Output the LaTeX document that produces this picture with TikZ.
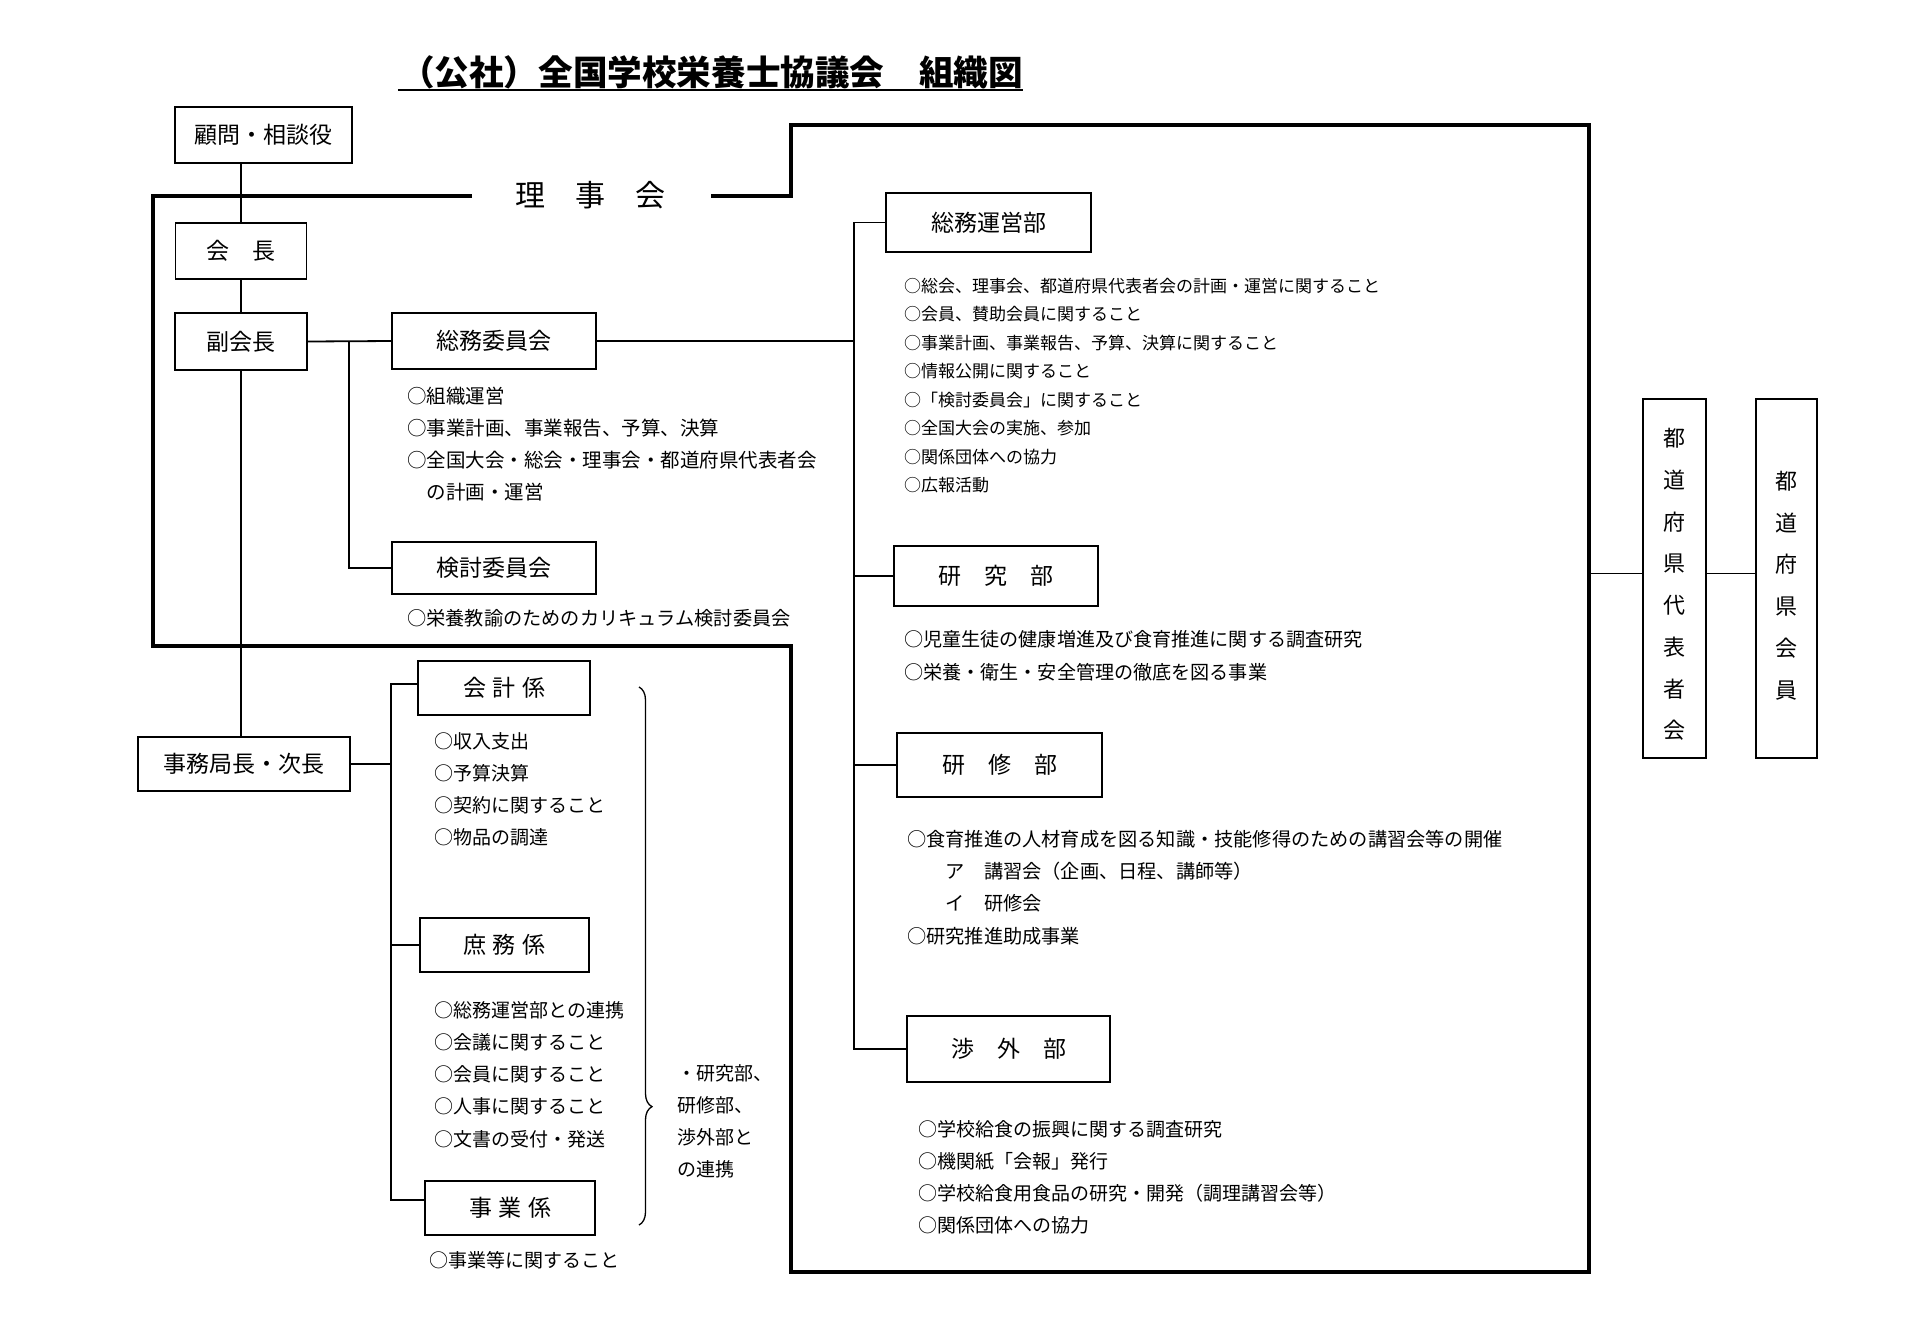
\documentclass[tikz,border=0pt]{standalone}
\usepackage{fontspec}
\setmainfont{Noto Sans CJK JP}
\usetikzlibrary{decorations.pathreplacing}
\begin{document}
\begin{tikzpicture}[x=1pt,y=-1pt,
  box/.style={draw, line width=1.5pt, inner sep=0pt, font=\fontsize{23}{23}\selectfont},
  vbox/.style={draw, line width=1.5pt, inner sep=0pt},
  vtxt/.style={inner sep=0pt, align=center, font=\fontsize{22}{41.7}\selectfont},
  conn/.style={line width=1.8pt},
  frame/.style={line width=4.5pt, line join=miter},
  lst/.style={inner sep=0pt, anchor=base west}]
\useasboundingbox (0,0) rectangle (1920,1342);
\fill[white] (0,0) rectangle (1920,1342);

% title
\node[inner sep=0pt, font=\bfseries\fontsize{34.6}{34.6}\selectfont] (title) at (711.5,72) {（公社）全国学校栄養士協議会　組織図};
\coordinate (ul) at (0,90);
\draw[line width=2pt] ([xshift=-2pt]title.west |- ul) -- (title.east |- ul);

% board frame
\node[inner sep=0pt, font=\fontsize{30}{30}\selectfont] (riji) at (590,195) {理　事　会};
\coordinate (fL) at (472,196);
\coordinate (fR) at (711,196);
\draw[frame] (fL) -- (153,196) -- (153,646) -- (791,646) -- (791,1272) -- (1589,1272) -- (1589,125) -- (791,125) -- (791,196) -- (fR);

% left column boxes
\node[box, minimum width=177pt, minimum height=56pt] (komon) at (263.5,135) {顧問・相談役};
\node[box, minimum width=131pt, minimum height=56pt] (kaicho) at (241,251) {会　長};
\node[box, minimum width=132pt, minimum height=57pt] (fuku) at (241,341.5) {副会長};
\node[box, minimum width=212pt, minimum height=54pt] (jimu) at (244,764) {事務局長・次長};
\node[box, minimum width=204pt, minimum height=56pt] (somu) at (494,341) {総務委員会};
\node[box, minimum width=204pt, minimum height=52pt] (kento) at (494,568) {検討委員会};
\node[box, minimum width=172pt, minimum height=54pt] (kaikei) at (504,688) {会\hspace{6.5pt}計\hspace{6.5pt}係};
\node[box, minimum width=169pt, minimum height=54pt] (shomu) at (504.5,945) {庶\hspace{6.5pt}務\hspace{6.5pt}係};
\node[box, minimum width=170pt, minimum height=54pt] (jigyo) at (510,1208) {事\hspace{6.5pt}業\hspace{6.5pt}係};

% right column boxes
\node[box, minimum width=205pt, minimum height=59pt] (unei) at (988.5,222.5) {総務運営部};
\node[box, minimum width=204pt, minimum height=60pt] (kenkyu) at (996,576) {研　究　部};
\node[box, minimum width=205pt, minimum height=64pt] (kenshu) at (999.5,765) {研　修　部};
\node[box, minimum width=203pt, minimum height=66pt] (shogai) at (1008.5,1049) {渉　外　部};

\node[vbox, minimum width=63pt, minimum height=359pt] (daihyo) at (1674.5,578.5) {};
\node[vtxt] (daihyoT) at (1674.5,584.5) {都\\道\\府\\県\\代\\表\\者\\会};
\node[vbox, minimum width=61pt, minimum height=359pt] (kaiin) at (1786.5,578.5) {};
\node[vtxt] (kaiinT) at (1786.5,585.5) {都\\道\\府\\県\\会\\員};

% connectors: main vertical
\draw[conn] (komon.south -| kaicho.north) -- (kaicho.north);
\draw[conn] (kaicho.south) -- (fuku.north);
\draw[conn] (fuku.south) -- (fuku.south |- jimu.north);

% vice president to committees
\draw[conn] (fuku.east) -- (somu.west);
\coordinate (kb) at (349,0);
\draw[conn] (fuku.east -| kb) -- (kento.west -| kb) -- (kento.west);

% committee to departments
\coordinate (rb) at (854,0);
\draw[conn] (somu.east) -- (somu.east -| rb);
\draw[conn] (unei.west) -- (unei.west -| rb) -- (shogai.west -| rb) -- (shogai.west);
\draw[conn] (kenkyu.west -| rb) -- (kenkyu.west);
\draw[conn] (kenshu.west -| rb) -- (kenshu.west);

% secretariat
\coordinate (jb) at (391,0);
\coordinate (k1) at ([yshift=4pt]kaikei.west);
\coordinate (j1) at ([yshift=8pt]jigyo.west);
\draw[conn] (jimu.east) -- (jimu.east -| jb);
\draw[conn] (k1) -- (k1 -| jb) -- (j1 -| jb) -- (j1);
\draw[conn] (shomu.west) -- (shomu.west -| jb);

% prefectures
\coordinate (rf) at (1589,0);
\coordinate (d1) at ([yshift=5pt]daihyo.west);
\coordinate (d2) at ([yshift=5pt]daihyo.east);
\draw[conn] (d1 -| rf) -- (d1);
\draw[conn] (d2) -- (d2 -| kaiin.west);

% brace
\coordinate (bt) at (639,687);
\coordinate (bb) at (639,1225);
\draw[line width=1.3pt, decorate, decoration={brace, amplitude=13pt, aspect=0.78}] (bt) -- (bb);

% text lists
\foreach \t [count=\i from 0] in {○組織運営,○事業計画、事業報告、予算、決算,○全国大会・総会・理事会・都道府県代表者会,　の計画・運営}
  \node[lst, font=\fontsize{19.5}{19.5}\selectfont] (somuL\i) at (407,403+32.2*\i) {\t};
\node[lst, font=\fontsize{19.2}{19.2}\selectfont] (kentoL) at (407,625.8) {○栄養教諭のためのカリキュラム検討委員会};
\foreach \t [count=\i from 0] in {○収入支出,○予算決算,○契約に関すること,○物品の調達}
  \node[lst, font=\fontsize{19}{19}\selectfont] (kaikeiL\i) at (434,748+32.3*\i) {\t};
\foreach \t [count=\i from 0] in {○総務運営部との連携,○会議に関すること,○会員に関すること,○人事に関すること,○文書の受付・発送}
  \node[lst, font=\fontsize{19}{19}\selectfont] (shomuL\i) at (434,1017.2+32.2*\i) {\t};
\node[lst, font=\fontsize{19}{19}\selectfont] (jigyoL) at (429,1267.2) {○事業等に関すること};
\foreach \t [count=\i from 0] in {・研究部、,研修部、,渉外部と,の連携}
  \node[lst, font=\fontsize{19}{19}\selectfont] (sideL\i) at (677,1080.2+32.1*\i) {\t};

\foreach \t [count=\i from 0] in {○総会、理事会、都道府県代表者会の計画・運営に関すること,○会員、賛助会員に関すること,○事業計画、事業報告、予算、決算に関すること,○情報公開に関すること,○「検討委員会」に関すること,○全国大会の実施、参加,○関係団体への協力,○広報活動}
  \node[lst, font=\fontsize{17}{17}\selectfont] (uneiL\i) at (904,292+28.5*\i) {\t};
\foreach \t [count=\i from 0] in {○児童生徒の健康増進及び食育推進に関する調査研究,○栄養・衛生・安全管理の徹底を図る事業}
  \node[lst, font=\fontsize{19.1}{19.1}\selectfont] (kenkyuL\i) at (904,646.8+33*\i) {\t};
\foreach \t [count=\i from 0] in {○食育推進の人材育成を図る知識・技能修得のための講習会等の開催,　　ア　講習会（企画、日程、講師等）,　　イ　研修会,○研究推進助成事業}
  \node[lst, font=\fontsize{19.2}{19.2}\selectfont] (kenshuL\i) at (907,846.3+32.3*\i) {\t};
\foreach \t [count=\i from 0] in {○学校給食の振興に関する調査研究,○機関紙「会報」発行,○学校給食用食品の研究・開発（調理講習会等）,○関係団体への協力}
  \node[lst, font=\fontsize{19}{19}\selectfont] (shogaiL\i) at (918,1136.3+32.2*\i) {\t};
\end{tikzpicture}
\end{document}
